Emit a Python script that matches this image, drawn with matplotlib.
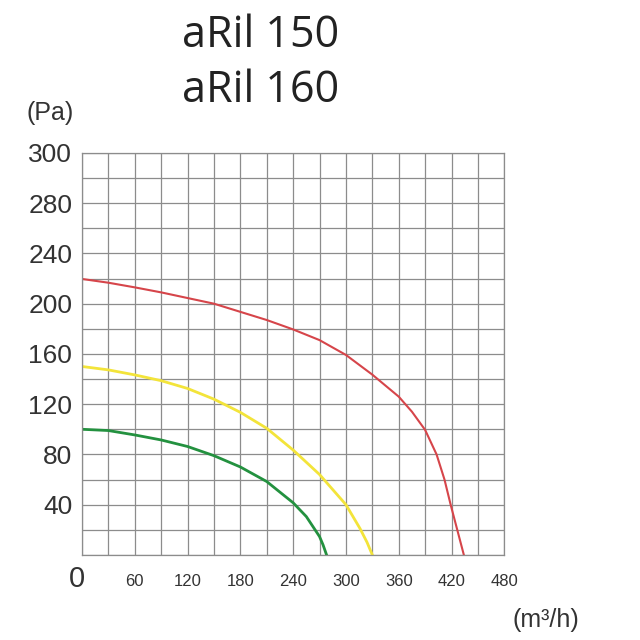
import numpy as np
import matplotlib
matplotlib.use("Agg")
import matplotlib.pyplot as plt

# Fan curves (airflow m3/h, pressure Pa)
green_flow = [0, 30, 60, 90, 120, 150, 180, 210, 240, 255, 270, 274, 278]
green_pa = [100, 99, 95.5, 91.5, 86.3, 79, 70, 58.4, 41.5, 30.5, 14.6, 8, 0]

yellow_flow = [0, 30, 60, 90, 120, 150, 180, 210, 240, 270, 300, 316, 324, 330]
yellow_pa = [150, 147.3, 143.3, 138.7, 132.5, 124, 113.5, 100.8, 83.5, 64, 40, 21, 10, 0]

red_flow = [0, 30, 60, 90, 120, 150, 180, 210, 240, 270, 300, 330, 360, 375,
            390, 403, 412, 419, 426.5, 434]
red_pa = [219.7, 216.7, 213, 209, 204.5, 200, 193.5, 187, 179.5, 171, 159.2, 143.5, 126, 114,
          99.5, 80, 60, 40, 20, 0]

# axis ticks and labels (the y labels on the original don't follow the grid exactly)
x_ticks = [60, 120, 180, 240, 300, 360, 420, 480]
x_labels = ['60', '120', '180', '240', '300', '360', '420', '480']
y_ticks = [40, 80, 120, 160, 200, 240, 280, 320]
y_labels = ['40', '80', '120', '160', '200', '240', '280', '300']

title_lines = ['aRil 150', 'aRil 160']

fig = plt.figure(figsize=(6.4, 6.4), dpi=100)
ax = fig.add_axes([0.128, 0.133, 0.66, 0.628])

label_font = ['Liberation Sans', 'DejaVu Sans']

# grid every 30 m3/h and 20 Pa
ax.set_xlim(0, 480)
ax.set_ylim(0, 320)
ax.set_xticks(np.arange(0, 481, 30), minor=True)
ax.set_yticks(np.arange(0, 321, 20), minor=True)
for s in ax.spines.values():
    s.set_color('#8c8c8c')
    s.set_linewidth(0.9)

ax.set_xticks(x_ticks)
ax.set_xticklabels(x_labels, fontsize=12, family=label_font, color='#333333')
ax.set_yticks(y_ticks)
ax.set_yticklabels(y_labels, fontsize=19, family=label_font, color='#333333')
ax.grid(True, which='both', color='#8c8c8c', lw=0.9)
ax.tick_params(which='both', length=0)
ax.tick_params(axis='x', pad=14)
ax.tick_params(axis='y', pad=7)

ax.plot(green_flow, green_pa, color='#23913f', lw=2.0, solid_joinstyle='round')
ax.plot(yellow_flow, yellow_pa, color='#f3e43a', lw=2.0, solid_joinstyle='round')
ax.plot(red_flow, red_pa, color='#d6454a', lw=1.5, solid_joinstyle='round')

# big zero at the origin
ax.annotate('0', xy=(0, 0), xytext=(-3.6, -17.5), textcoords='offset points',
            ha='center', va='center', fontsize=21, family=label_font, color='#333333')

# units
fig.text(27 / 640, 1 - 113 / 640, '(Pa)', ha='left', va='center',
         fontsize=18, family=label_font, color='#333333')
fig.text(512 / 640, 1 - 620 / 640, '(m³/h)', ha='left', va='center',
         fontsize=18, family=label_font, color='#333333')

# model names
for i, t in enumerate(title_lines):
    fig.text(182 / 640, 1 - (47 + 55 * i) / 640, t, ha='left', va='baseline',
             fontsize=31, family=['Open Sans', 'DejaVu Sans'], color='#222222')

fig.savefig('out.png', dpi=100, facecolor='white')
